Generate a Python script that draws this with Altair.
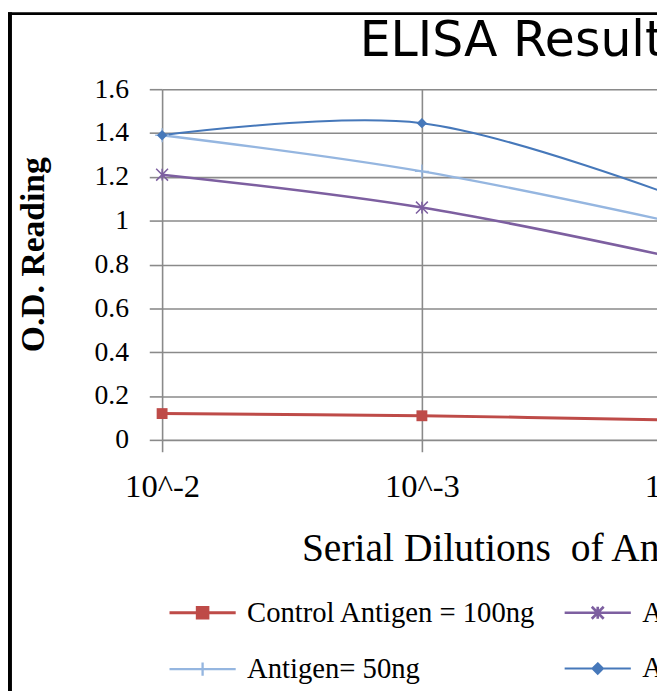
import altair as alt
import pandas as pd

# ---- data ----
dilutions = ["10^-2", "10^-3", "10^-4"]
series_names = ["Control Antigen = 100ng", "Antigen = 10ng", "Antigen= 50ng", "Antigen = 100ng"]
control_100 = [0.12, 0.11, 0.09]
antigen_10 = [1.21, 1.06, 0.825]
antigen_50 = [1.39, 1.225, 0.985]
antigen_100 = [1.39, 1.445, 1.10]
y_ticks = [0, 0.2, 0.4, 0.6, 0.8, 1.0, 1.2, 1.4, 1.6]

series_values = [control_100, antigen_10, antigen_50, antigen_100]
colors = ["#BE4B48", "#7D5FA0", "#95B6E0", "#4678BA"]
line_widths = [3, 2, 1.6, 2.2]

rows = []
for name, vals in zip(series_names, series_values):
    for d, v in zip(dilutions, vals):
        rows.append({"series": name, "dilution": d, "od": v})
df = pd.DataFrame(rows)

GRID = "#8A8A8A"
SERIF = "Liberation Serif"

x_enc = alt.X(
    "dilution:O",
    sort=dilutions,
    scale=alt.Scale(type="point", padding=0, domain=dilutions),
    axis=alt.Axis(
        labelAngle=0, labelFont=SERIF, labelFontSize=33, labelColor="black",
        labelPadding=19, tickSize=12, tickColor=GRID, tickWidth=1.6,
        grid=True, gridColor=GRID, gridWidth=1.6, domain=False,
        title="Serial Dilutions\u00a0 of Antigen", titleFont=SERIF, titleFontSize=40,
        titleFontWeight="normal", titleColor="black", titleX=141, titleY=122,
        titleAnchor="start", titleAlign="left", titleBaseline="alphabetic",
    ),
)
y_enc = alt.Y(
    "od:Q",
    scale=alt.Scale(domain=[0, 1.6], nice=False),
    axis=alt.Axis(
        values=y_ticks, format="~g", labelFont=SERIF, labelFontSize=28,
        labelColor="black", labelPadding=21, tickSize=13, tickColor=GRID,
        tickWidth=1.6, grid=True, gridColor=GRID, gridWidth=1.6, domain=False,
        title="O.D. Reading", titleFont=SERIF, titleFontSize=34,
        titleFontWeight="bold", titleColor="black", titleX=-120, titleY=167,
        titleAngle=270, titleAlign="center", titleBaseline="alphabetic",
    ),
)

legend_paths = [
    "M-1,0H1M-0.16,-0.16H0.16V0.16H-0.16Z",
    "M-1,0H1M-0.18,-0.18L0.18,0.18M-0.18,0.18L0.18,-0.18M0,-0.18V0.18",
    "M-1,0H1M0,-0.2V0.2",
    "M-1,0H1M0,-0.16L0.16,0L0,0.16L-0.16,0Z",
]

legend_def = dict(
    orient="none", legendX=6, legendY=495, direction="horizontal", columns=2,
    columnPadding=23, rowPadding=7, symbolSize=4489, symbolStrokeWidth=2,
    labelFont=SERIF, labelFontSize=29, labelColor="black", labelLimit=0,
    labelOffset=10, title=None, padding=0,
)


def stroke_enc():
    return alt.Stroke("series:N", scale=alt.Scale(domain=series_names, range=colors),
                      legend=alt.Legend(**legend_def))


base = alt.Chart(df)

lines = base.mark_line(interpolate="cardinal").encode(
    x=x_enc,
    y=y_enc,
    stroke=stroke_enc(),
    strokeWidth=alt.StrokeWidth("series:N", scale=alt.Scale(domain=series_names, range=line_widths),
                                legend=alt.Legend(**legend_def)),
)

marker_specs = [
    (series_names[0], colors[0], "square", 121, True, 1),
    (series_names[1], colors[1], "M-1,-1L1,1M-1,1L1,-1M0,-1V1", 144, False, 1.5),
    (series_names[2], colors[2], "M-1,0H1M0,-1V1", 196, False, 1.3),
    (series_names[3], colors[3], "diamond", 110, True, 1),
]
marker_layers = []
for name, col, shp, size, filled, sw in marker_specs:
    marker_layers.append(
        base.transform_filter(alt.datum.series == name)
        .mark_point(shape=shp, size=size, filled=filled, color=col, strokeWidth=sw, opacity=1)
        .encode(x=x_enc, y=y_enc)
    )

legend_layer = base.transform_filter("false").mark_point(filled=True, opacity=1).encode(
    x=x_enc,
    y=y_enc,
    fill=alt.Fill("series:N", scale=alt.Scale(domain=series_names, range=colors), legend=alt.Legend(**legend_def)),
    stroke=stroke_enc(),
    shape=alt.Shape("series:N", scale=alt.Scale(domain=series_names, range=legend_paths), legend=alt.Legend(**legend_def)),
)

border_df = pd.DataFrame({"b": [0]})
left_border = alt.Chart(border_df).mark_rule(color="black", strokeWidth=4).encode(
    x=alt.value(-154), y=alt.value(-78), y2=alt.value(610)
)
top_border = alt.Chart(border_df).mark_rule(color="black", strokeWidth=3).encode(
    x=alt.value(-156), x2=alt.value(700), y=alt.value(-76.5)
)

chart = alt.layer(lines, *marker_layers, legend_layer, left_border, top_border).properties(
    width=526,
    height=355,
    padding={"left": 156, "top": 78, "right": -25, "bottom": 250},
    autosize=alt.AutoSizeParams(type="none"),
    title=alt.Title(
        "ELISA Results", font="DejaVu Sans", fontSize=49.5, fontWeight="normal",
        color="black", anchor="start", frame="group", dx=200, offset=-96,
        baseline="alphabetic",
    ),
).configure_view(stroke=None).configure(background="white")

chart.save("out.html", embed_options={"renderer": "svg", "actions": False})
